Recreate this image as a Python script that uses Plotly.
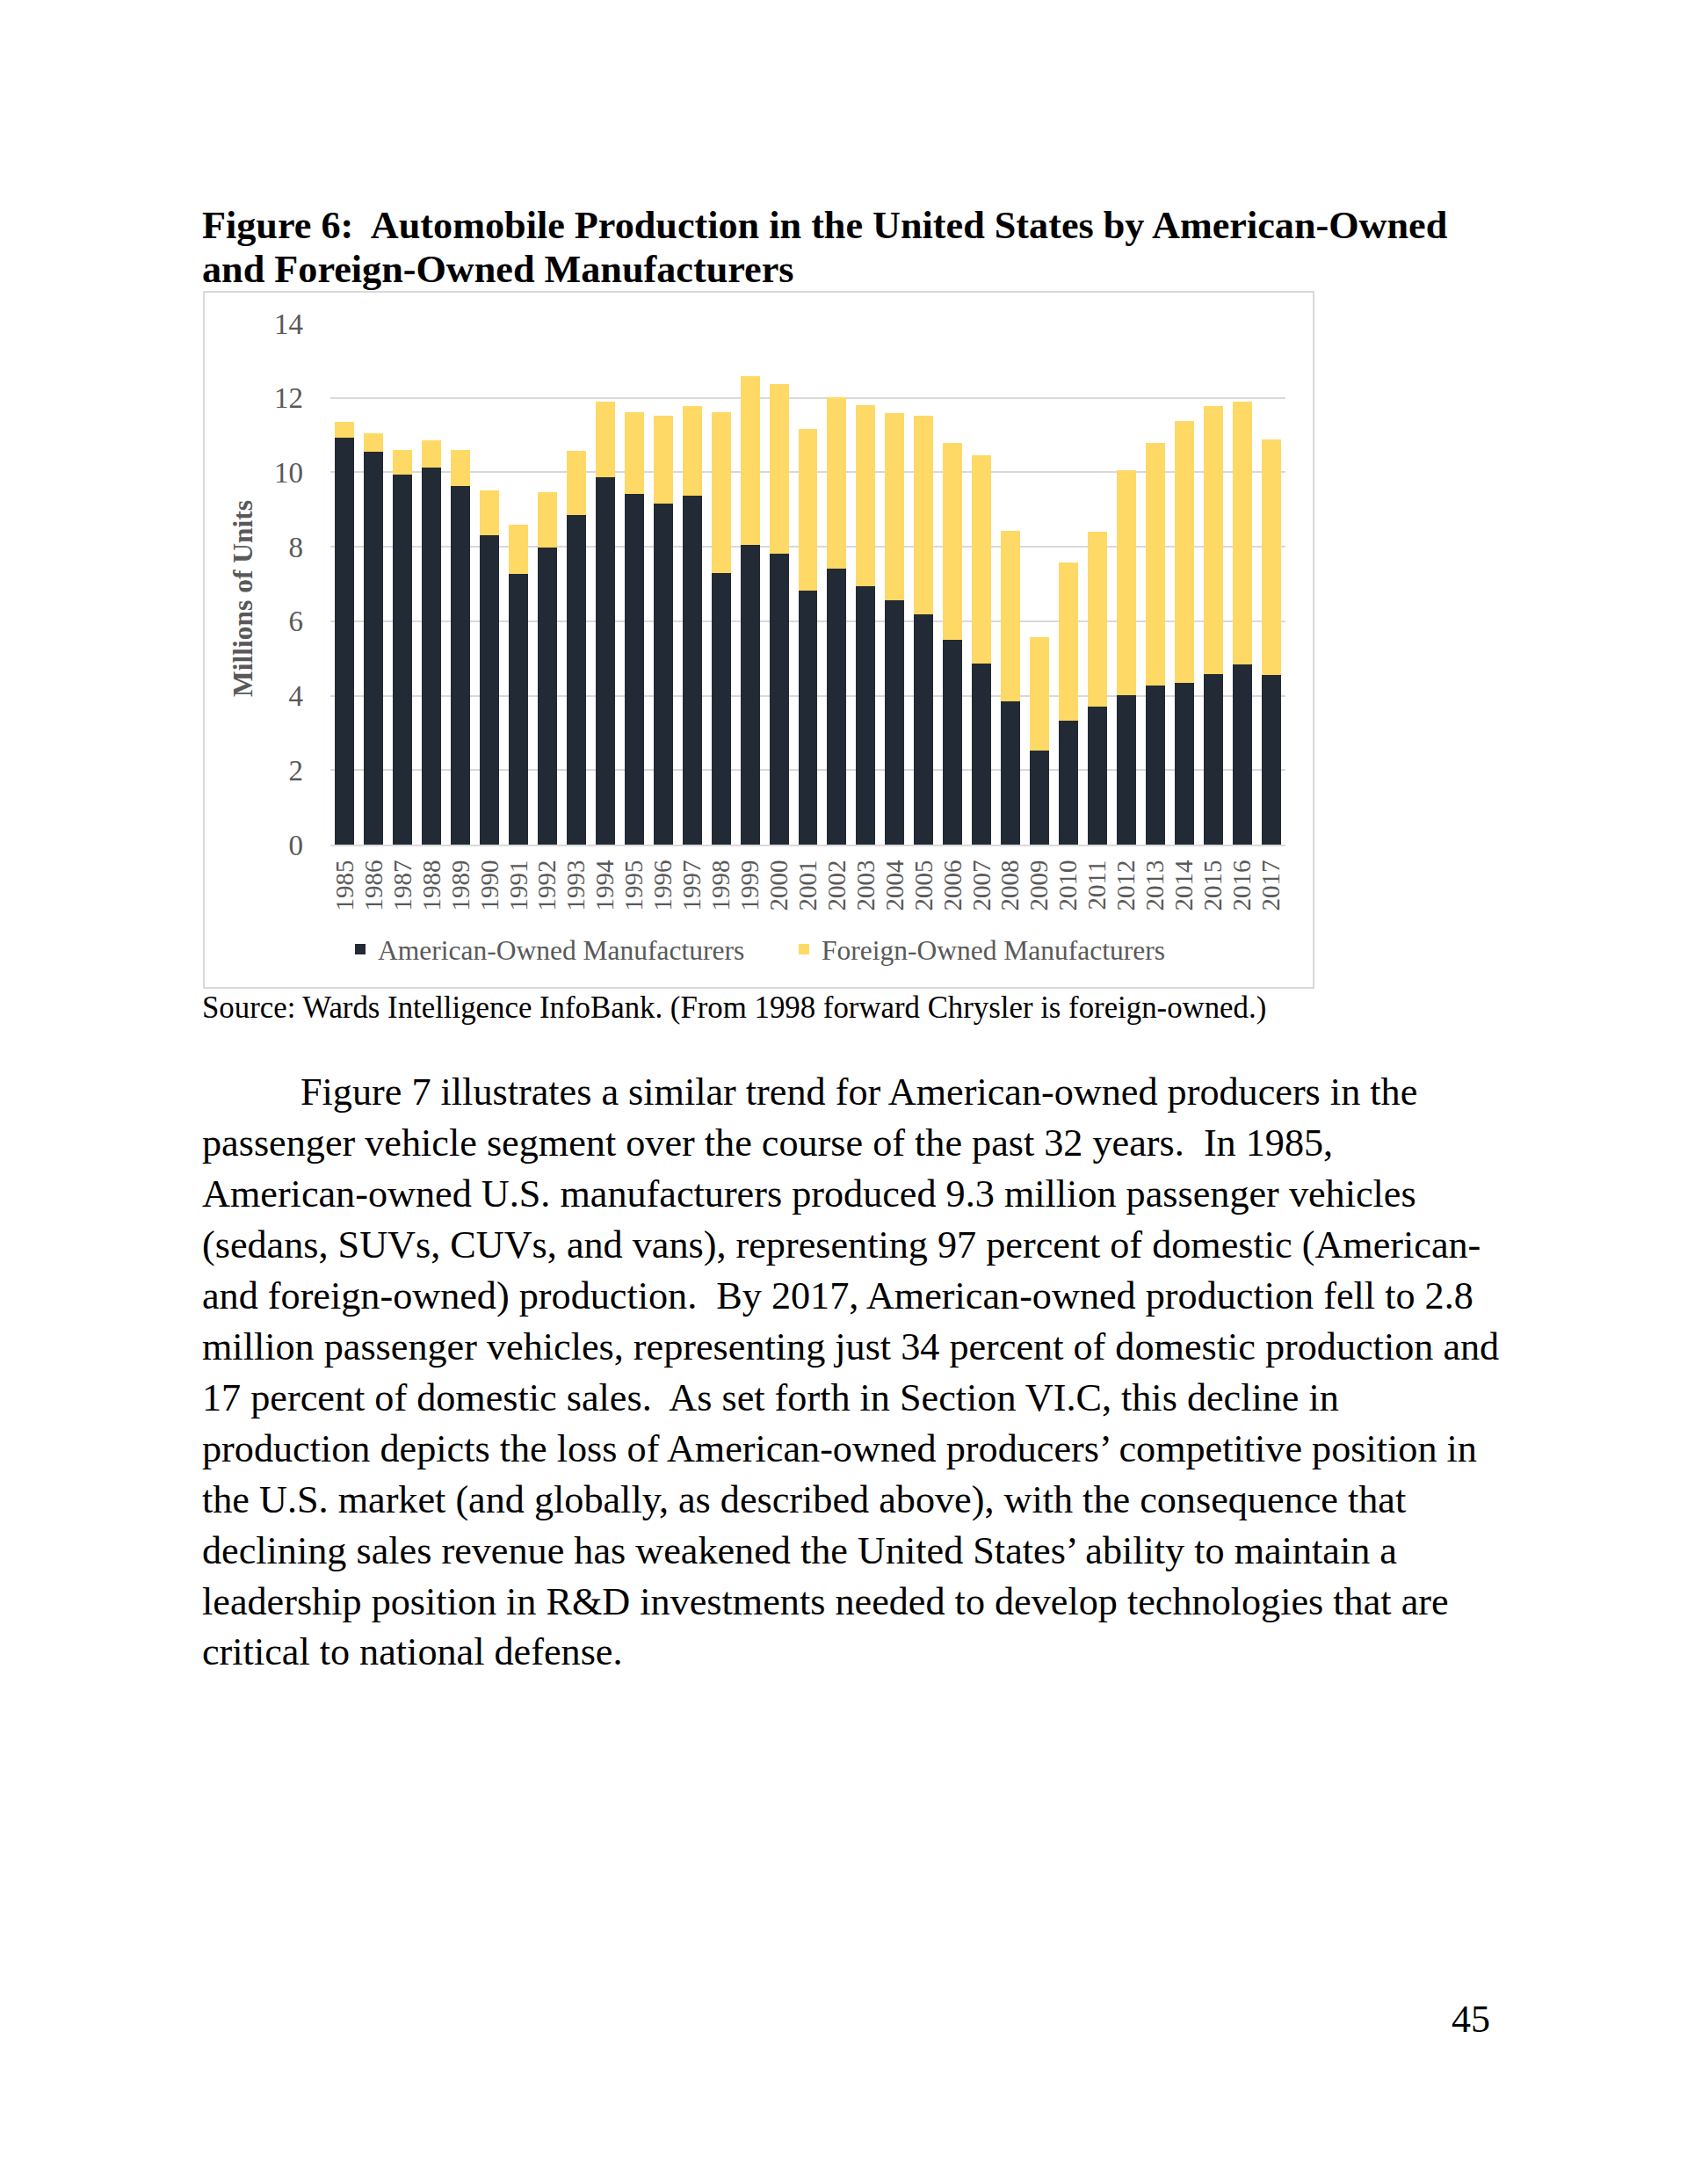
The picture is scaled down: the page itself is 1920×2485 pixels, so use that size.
import plotly.graph_objects as go

years = [str(y) for y in range(1985, 2018)]
american = [10.94, 10.55, 9.93, 10.12, 9.64, 8.30, 7.27, 7.97, 8.86, 9.88,
            9.42, 9.16, 9.38, 7.30, 8.05, 7.82, 6.82, 7.41, 6.94, 6.56,
            6.18, 5.49, 4.86, 3.86, 2.53, 3.34, 3.71, 4.01, 4.27, 4.35,
            4.59, 4.83, 4.55]
total = [11.35, 11.06, 10.60, 10.87, 10.60, 9.52, 8.60, 9.46, 10.57, 11.90,
         11.61, 11.52, 11.77, 11.62, 12.58, 12.38, 11.16, 12.02, 11.81, 11.60,
         11.51, 10.78, 10.46, 8.44, 5.56, 7.59, 8.40, 10.05, 10.80, 11.37,
         11.77, 11.90, 10.89]
foreign = [round(t - a, 2) for t, a in zip(total, american)]

y_ticks = [0, 2, 4, 6, 8, 10, 12, 14]

title_lines = ["Figure 6:  Automobile Production in the United States by American-Owned",
               "and Foreign-Owned Manufacturers"]
source_text = "Source: Wards Intelligence InfoBank. (From 1998 forward Chrysler is foreign-owned.)"
body_lines = [
    "Figure 7 illustrates a similar trend for American-owned producers in the",
    "passenger vehicle segment over the course of the past 32 years.  In 1985,",
    "American-owned U.S. manufacturers produced 9.3 million passenger vehicles",
    "(sedans, SUVs, CUVs, and vans), representing 97 percent of domestic (American-",
    "and foreign-owned) production.  By 2017, American-owned production fell to 2.8",
    "million passenger vehicles, representing just 34 percent of domestic production and",
    "17 percent of domestic sales.  As set forth in Section VI.C, this decline in",
    "production depicts the loss of American-owned producers\u2019 competitive position in",
    "the U.S. market (and globally, as described above), with the consequence that",
    "declining sales revenue has weakened the United States\u2019 ability to maintain a",
    "leadership position in R&D investments needed to develop technologies that are",
    "critical to national defense.",
]
page_number = "45"

W, H = 1920, 2485
L, R, T, B = 368, 1455, 360, 953
FONT = "Liberation Serif"
GRAY = "#595959"


def px(x):
    return (x - L) / (R - L)


def py(y):
    return (B - y) / (B - T)


fig = go.Figure()
fig.add_trace(go.Bar(x=years, y=american, name="American-Owned Manufacturers",
                     marker=dict(color="#222a35", line=dict(width=0)), legend="legend"))
fig.add_trace(go.Bar(x=years, y=foreign, name="Foreign-Owned Manufacturers",
                     marker=dict(color="#ffd966", line=dict(width=0)), legend="legend2"))

annotations = []
for i, line in enumerate(title_lines):
    annotations.append(dict(text="<b>" + line + "</b>", x=px(220), y=py(249 + 49.5 * i),
                            xref="paper", yref="paper", xanchor="left", yanchor="middle",
                            showarrow=False, font=dict(family=FONT, size=44.2, color="black")))
annotations.append(dict(text=source_text, x=px(220), y=py(1138), xref="paper", yref="paper",
                        xanchor="left", yanchor="middle", showarrow=False,
                        font=dict(family=FONT, size=34.8, color="black")))
for i, line in enumerate(body_lines):
    x0 = 332 if i == 0 else 220
    annotations.append(dict(text=line, x=px(x0), y=py(1234 + 58 * i), xref="paper", yref="paper",
                            xanchor="left", yanchor="middle", showarrow=False,
                            font=dict(family=FONT, size=44.2, color="black")))
annotations.append(dict(text=page_number, x=px(1690), y=py(2289), xref="paper", yref="paper",
                        xanchor="right", yanchor="middle", showarrow=False,
                        font=dict(family=FONT, size=44, color="black")))
annotations.append(dict(text="<b>Millions of Units</b>", x=px(268), y=py(673), xref="paper",
                        yref="paper", xanchor="center", yanchor="middle", textangle=-90,
                        showarrow=False, font=dict(family=FONT, size=31.5, color=GRAY)))

fig.update_layout(
    width=W, height=H, autosize=False,
    margin=dict(l=L, r=W - R, t=T, b=H - B),
    paper_bgcolor="white", plot_bgcolor="white",
    barmode="stack", bargap=0.333,
    showlegend=True,
    annotations=annotations,
    shapes=[dict(type="rect", xref="paper", yref="paper", x0=px(224), x1=px(1487),
                 y0=py(1116), y1=py(324), line=dict(color="#d9d9d9", width=2), layer="below")],
    legend=dict(orientation="h", x=px(382), y=py(1072), xanchor="left", yanchor="middle",
                font=dict(family=FONT, size=31.5, color=GRAY), bgcolor="rgba(0,0,0,0)"),
    legend2=dict(orientation="h", x=px(887), y=py(1072), xanchor="left", yanchor="middle",
                 font=dict(family=FONT, size=31.5, color=GRAY), bgcolor="rgba(0,0,0,0)"),
    xaxis=dict(type="category", tickmode="array", tickvals=years, ticktext=years,
               tickangle=-90, showline=True, linecolor="#d9d9d9", linewidth=2,
               ticks="", showgrid=False, tickfont=dict(family=FONT, size=29, color=GRAY),
               ticklabelstandoff=4),
    yaxis=dict(range=[0, 14], tickvals=y_ticks, showgrid=True, gridcolor="#d9d9d9", gridwidth=2,
               zeroline=False, showline=False, ticks="",
               tickfont=dict(family=FONT, size=33, color=GRAY), ticklabelstandoff=30),
)

fig.write_html("out.html")
